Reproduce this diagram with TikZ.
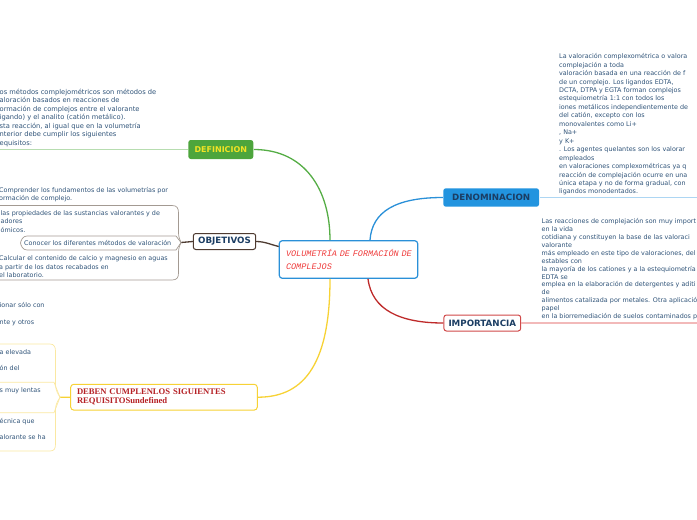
\documentclass[tikz,border=0pt]{standalone}
\usepackage{fontspec}
\setmainfont{DejaVu Sans}
\newfontfamily\monoit{Liberation Mono}
\newfontfamily\serifb{Liberation Serif}
\newcommand\ml[1]{\begin{tabular}[t]{@{}l@{}}#1\end{tabular}}
\definecolor{bodyc}{HTML}{2F5378}
\definecolor{navy}{HTML}{1B3D63}
\definecolor{gfill}{HTML}{4DA53C}
\definecolor{gline}{HTML}{55AD45}
\definecolor{lgreen}{HTML}{B7DDB0}
\definecolor{bfill}{HTML}{2294DF}
\definecolor{bline}{HTML}{2A90D8}
\definecolor{lblue}{HTML}{ADD6F3}
\definecolor{rline}{HTML}{BE2A2A}
\definecolor{rbox}{HTML}{D04848}
\definecolor{pink}{HTML}{F2B9B9}
\definecolor{yline}{HTML}{F7D235}
\definecolor{ylight}{HTML}{FAE8A2}
\definecolor{brown}{HTML}{4E3B31}
\definecolor{gbrk}{HTML}{A39A92}
\definecolor{ctxt}{HTML}{EE3B3B}
\definecolor{dred}{HTML}{B52025}
\definecolor{yeltxt}{HTML}{F2E424}
\begin{document}
\begin{tikzpicture}[x=1pt,y=-1pt,
  body/.style={font=\fontsize{6.4}{8.45}\selectfont, text=bodyc, inner sep=0, anchor=base west},
  bodyb/.style={font=\fontsize{6.4}{7.9}\selectfont, text=bodyc, inner sep=0, anchor=base west},
  title/.style={font=\fontsize{8.7}{9}\selectfont\bfseries, text=navy, inner sep=0, rounded corners=2.5pt, line width=1pt, align=center},
  conn/.style={line width=1.3pt},
  light/.style={line width=1.4pt},
  brk/.style={line width=0.7pt, gbrk},
  ybrk/.style={line width=0.7pt, ylight}]
\useasboundingbox (0,0) rectangle (697,520);
\clip (0,0) rectangle (697,520);

% central node
\node[draw=bline, line width=1.2pt, rounded corners=3pt, minimum width=138.4pt, minimum height=37.6pt,
  inner xsep=6.7pt, inner ysep=0pt, text width=125pt, align=left, text=ctxt,
  font=\fontsize{8.5}{12.6}\selectfont\monoit\itshape] (center) at (348.5,259.5)
  {\raisebox{-1.5pt}{VOLUMETRÍA DE FORMACIÓN DE}\\\raisebox{-1.5pt}{COMPLEJOS}};

% main topics
\node[title, fill=gfill, text=yeltxt, minimum width=65pt, minimum height=19pt,
  font=\fontsize{8}{9}\selectfont\bfseries] (defn) at (220.8,149.5) {DEFINICION};
\node[title, draw=brown, fill=white, minimum width=62.4pt, minimum height=16pt] (obj) at (224.5,241.5) {OBJETIVOS};
\node[title, fill=bfill, minimum width=95.7pt, minimum height=18.4pt] (denom) at (491.2,197.5) {DENOMINACION};
\node[title, draw=rbox, fill=white, minimum width=76.7pt, minimum height=16pt] (imp) at (482.3,323) {IMPORTANCIA};
\node[draw=yline, line width=1pt, rounded corners=3pt, fill=white, minimum width=186.6pt, minimum height=25.7pt,
  inner xsep=6.3pt, inner ysep=0pt, text width=174pt, align=left, text=dred,
  font=\fontsize{8.6}{9.2}\selectfont\serifb\bfseries] (deben) at (164,397.2)
  {\raisebox{-1pt}{DEBEN CUMPLENLOS SIGUIENTES}\\\raisebox{-1pt}{REQUISITOSundefined}};

% connectors from center
\draw[conn, gline] (defn.east) .. controls (305,149.5) and (330,190) .. ([xshift=-18.5pt]center.north);
\draw[conn, brown] (obj.east) .. controls (265,241.5) and (272,245) .. ([yshift=13pt]center.west);
\draw[conn, bline] ([xshift=21.5pt]center.north) .. controls (372,212) and (395,197.5) .. (denom.west);
\draw[conn, rline] ([xshift=19.5pt]center.south) .. controls (372,310) and (400,323) .. (imp.west);
\draw[conn, yline] ([xshift=-18.5pt]center.south) .. controls (330,370) and (300,397.2) .. (deben.east);

% free-end lines
\coordinate (deffree) at (0,149.5);
\coordinate (denfree) at (697,197.5);
\coordinate (impfree) at (697,323);
\draw[light, lgreen] (defn.west) -- (deffree);
\draw[light, lblue] (denom.east) -- (denfree);
\draw[light, pink] (imp.east) -- (impfree);

% texts
\node[body, font=\fontsize{6.7}{8.45}\selectfont] (deftext) at (-0.5,94.5) {\ml{os métodos complejométricos son métodos de\\aloración basados en reacciones de\\ormación de complejos entre el valorante\\igando) y el analito (catión metálico).\\sta reacción, al igual que en la volumetría\\nterior debe cumplir los siguientes\\equisitos:}};

\node[body] (dentext) at (559,58.7) {\ml{La valoración complexométrica o valora\\complejación a toda\\valoración basada en una reacción de f\\de un complejo. Los ligandos EDTA,\\DCTA, DTPA y EGTA forman complejos\\estequiometría 1:1 con todos los\\iones metálicos independientemente de\\del catión, excepto con los\\monovalentes como Li+\\, Na+\\y K+\\. Los agentes quelantes son los valorar\\empleados\\en valoraciones complexométricas ya q\\reacción de complejación ocurre en una\\única etapa y no de forma gradual, con\\ligandos monodentados.}};

\node[bodyb] (imptext) at (541.5,223.7) {\ml{Las reacciones de complejación son muy import\\en la vida\\cotidiana y constituyen la base de las valoraci\\valorante\\más empleado en este tipo de valoraciones, del\\estables con\\la mayoría de los cationes y a la estequiometría\\EDTA se\\emplea en la elaboración de detergentes y aditi\\de\\alimentos catalizada por metales. Otra aplicació\\papel\\en la biorremediación de suelos contaminados p}};

% objetivos children
\node[body] (obj1) at (-1,192) {\ml{Comprender los fundamentos de las volumetrías por\\ormación de complejo.}};
\node[body] (obj2) at (0.5,215.5) {\ml{ las propiedades de las sustancias valorantes y de\\adores\\ómicos.}};
\node[body] (obj3) at (24,245) {Conocer los diferentes métodos de valoración};
\node[body] (obj4) at (-1,260.8) {\ml{Calcular el contenido de calcio y magnesio en aguas\\a partir de los datos recabados en\\el laboratorio.}};

\coordinate (objfork) at (181,242.5);
\draw[conn, brown] (obj.west) -- (objfork);
\draw[brk] (0,205.5) -- (172,205.5) .. controls (177,205.5) and (178.5,208) .. (178.5,213) -- (178.5,233)
  .. controls (178.5,237) and (180,240) .. (objfork) .. controls (180,245) and (178.5,248) .. (178.5,252)
  -- (178.5,273) .. controls (178.5,277.5) and (177,280) .. (172,280) -- (0,280);
\draw[brk] (objfork) -- (176,236) -- (27,236) .. controls (23,236) and (21,240) .. (20.5,243)
  .. controls (21,246) and (23,250) .. (27,250) -- (176,250) -- cycle;

% fragments
\node[body] (frag1) at (-0.5,307.2) {ionar sólo con};
\node[body] (frag2) at (-0.5,324.2) {nte y otros};

% deben children
\node[body] (req1) at (-0.5,354.8) {a elevada};
\node[body] (req2) at (-0.5,370.4) {ón del};
\node[body] (req3) at (-0.5,392.8) {s muy lentas};
\node[body] (req4) at (-0.5,423.1) {écnica que};
\node[body] (req5) at (-0.5,439.8) {alorante se ha};

\coordinate (yfork) at (60,397.3);
\draw[conn, yline] (deben.west) -- (yfork);
\draw[ybrk] (0,344) -- (50,344) .. controls (54,344) and (55.5,347) .. (55.5,351) -- (55.5,385)
  .. controls (55.5,390) and (58,394) .. (yfork) .. controls (58,400.5) and (55.5,404.5) .. (55.5,409)
  -- (55.5,444) .. controls (55.5,449) and (54,451) .. (50,451) -- (0,451);
\draw[ybrk] (0,382.3) -- (54,382.3) -- (yfork) -- (54,412.7) -- (0,412.7);
\end{tikzpicture}
\end{document}
